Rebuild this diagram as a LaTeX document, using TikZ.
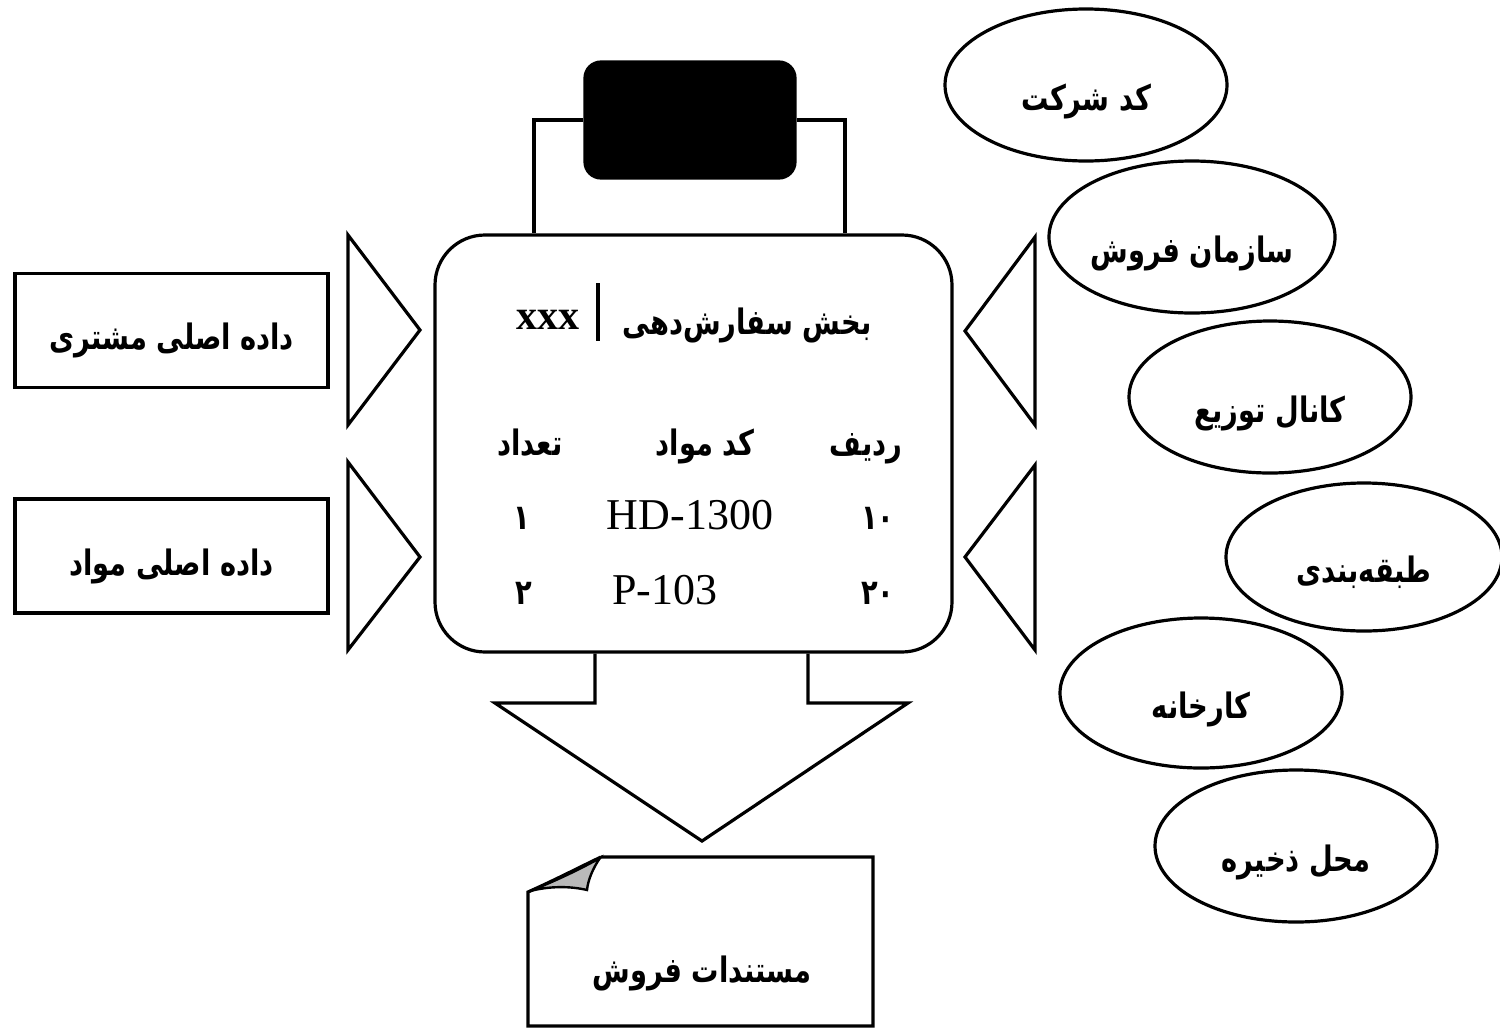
\documentclass[tikz,border=0pt]{standalone}
\usepackage{fontspec}
\setmainfont{Liberation Serif}
\newfontfamily\fa[Script=Arabic, FakeStretch=0.78]{DejaVu Sans}
\TeXXeTstate=1
\usetikzlibrary{shapes.geometric}
\newcommand\rtl[1]{\beginR #1\endR}
\tikzset{
  faf/.style={font=\fa\bfseries\fontsize{17.5}{20}\selectfont},
  srcbox/.style={draw, minimum width=156.5pt, minimum height=57pt, inner sep=0pt, faf,
                 text height=19pt, text depth=0pt},
  oval/.style={ellipse, draw, minimum width=141pt, minimum height=76pt, inner sep=0pt, faf,
               text height=25pt, text depth=0pt},
  lbl/.style={inner sep=0pt, faf, anchor=base},
  latin/.style={inner sep=0pt, anchor=base, font=\fontsize{22}{24}\selectfont},
}
\begin{document}
\begin{tikzpicture}[x=0.5pt, y=-0.5pt, line width=1.6pt, line join=miter]
\useasboundingbox (0,0) rectangle (1500,1029);

% central order-entry screen
\node[draw, rounded corners=25pt, minimum width=258.5pt, minimum height=208.5pt] (main) at (693.5,443.5) {};

% black handle on top and its bracket
\node[draw, fill=black, rounded corners=8pt, minimum width=105pt, minimum height=58pt] (handle) at (690,120) {};
\coordinate (lbr) at (534,0);
\coordinate (rbr) at (845,0);
\draw (handle.west) -| (lbr |- main.north);
\draw (handle.east) -| (rbr |- main.north);

% header line
\node[lbl, anchor=base east] (title) at (873,334) {\rtl{بخش سفارش‌دهی}};
\draw (598,283) -- (598,341);
\node[inner sep=0pt, anchor=base, font=\bfseries\fontsize{21}{24}\selectfont] (xxx) at (548,329) {xxx};

% table head and rows
\node[lbl] (hq) at (530,455) {\rtl{تعداد}};
\node[lbl] (hc) at (705,455) {\rtl{کد مواد}};
\node[lbl] (hr) at (866,455) {\rtl{ردیف}};
\node[lbl] (q1) at (522,529) {۱};
\node[latin] (c1) at (690,529) {HD-1300};
\node[lbl] (r1) at (878,529) {۱۰};
\node[lbl] (q2) at (524,604) {۲};
\node[latin] (c2) at (665,604) {P-103};
\node[lbl] (r2) at (878,604) {۲۰};

% master data on the left
\node[srcbox] (cust) at (171.5,330.5) {\rtl{داده اصلی مشتری}};
\node[srcbox] (mat) at (171.5,556) {\rtl{داده اصلی مواد}};
\draw (348,235) -- (348,425) -- (420,330) -- cycle;
\draw (348,462) -- (348,650) -- (420,557) -- cycle;

% organisational data on the right
\draw (1035,237) -- (1035,425) -- (965,331) -- cycle;
\draw (1035,465) -- (1035,650) -- (965,557) -- cycle;
\node[oval] (comp) at (1086,85) {\rtl{کد شرکت}};
\node[oval] (sorg) at (1192,237) {\rtl{سازمان فروش}};
\node[oval] (dchan) at (1270,397) {\rtl{کانال توزیع}};
\node[oval, minimum width=138pt, minimum height=74pt] (div) at (1364,557) {\rtl{طبقه‌بندی}};
\node[oval, minimum height=75pt] (plant) at (1201,693) {\rtl{کارخانه}};
\node[oval] (sloc) at (1296,846) {\rtl{محل ذخیره}};

% output arrow
\draw (595,0 |- main.south) -- (595,703) -- (495,703) -- (702,841) -- (908,703) -- (808,703) -- (808,0 |- main.south);

% sales document with a curled corner
\node[lbl] (doc) at (702,982) {\rtl{مستندات فروش}};
\draw (601,857) -- (873,857) -- (873,1026) -- (528,1026) -- (528,892)
      .. controls (555,880) and (580,867) .. (601,857);
\draw[line width=1.2pt, fill=gray!55] (530,891) .. controls (560,879) and (582,868) .. (600,858)
      .. controls (593,868) and (588,880) .. (587,890)
      .. controls (570,886) and (550,886) .. (530,891) -- cycle;
\end{tikzpicture}
\end{document}
